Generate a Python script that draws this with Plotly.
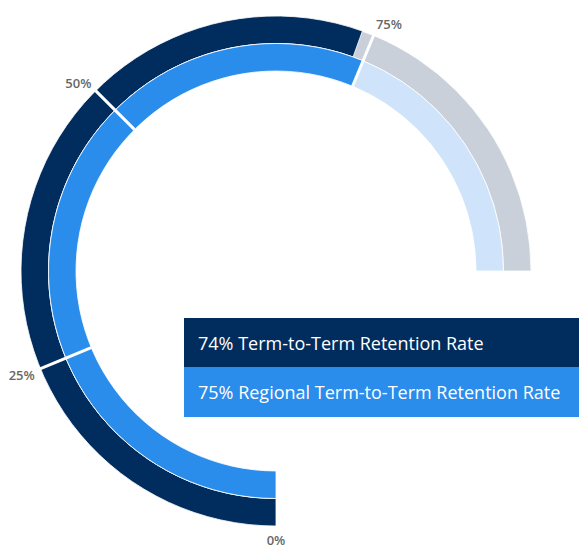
import plotly.graph_objects as go

# ---- data ----
categories = ["Term-to-Term Retention Rate", "Regional Term-to-Term Retention Rate"]
values = [74, 75]
scale_max = 100
tick_values = [0, 25, 50, 75]
tick_labels = ["0%", "25%", "50%", "75%"]

# ---- styling ----
SWEEP = 270.0  # degrees covered by 0..100 %
bar_colors = ["#012D5E", "#2A8CEB"]
track_colors = ["#C9D0D9", "#CFE4FA"]
ring_base = [227.5, 200.0]
ring_thick = [27.5, 27.5]
R_PX = 256.0
CX, CY = 276, 271
W, H = 579, 550


def deg(p):
    return p * SWEEP / scale_max


fig = go.Figure()

for i in range(len(values)):
    fig.add_trace(go.Barpolar(
        r=[ring_thick[i]], base=[ring_base[i]],
        theta=[deg(scale_max) / 2], width=[deg(scale_max)],
        marker=dict(color=track_colors[i], line=dict(color="rgba(255,255,255,0.8)", width=1)),
        hoverinfo="skip", showlegend=False,
    ))
    fig.add_trace(go.Barpolar(
        r=[ring_thick[i]], base=[ring_base[i]],
        theta=[deg(values[i]) / 2], width=[deg(values[i])],
        marker=dict(color=bar_colors[i], line=dict(color="rgba(255,255,255,0.8)", width=1)),
        name=categories[i], showlegend=False,
    ))

sep_r, sep_t = [], []
for tv in tick_values[1:]:
    sep_r += [ring_base[1], ring_base[0] + ring_thick[0] + 0.5, None]
    sep_t += [deg(tv), deg(tv), None]
fig.add_trace(go.Scatterpolar(
    r=sep_r, theta=sep_t, mode="lines",
    line=dict(color="white", width=3),
    hoverinfo="skip", showlegend=False, cliponaxis=False,
))

fig.update_layout(
    width=W, height=H,
    margin=dict(l=0, r=0, t=0, b=0),
    paper_bgcolor="white",
    showlegend=False,
    polar=dict(
        domain=dict(x=[(CX - R_PX) / W, (CX + R_PX) / W],
                    y=[(H - CY - R_PX) / H, (H - CY + R_PX) / H]),
        bgcolor="rgba(0,0,0,0)",
        hole=0,
        radialaxis=dict(range=[0, R_PX], visible=False),
        angularaxis=dict(
            rotation=-90, direction="clockwise", thetaunit="degrees",
            showgrid=False, showline=False,
            tickmode="array", tickvals=[deg(t) for t in tick_values], ticktext=tick_labels,
            ticks="outside", ticklen=2, tickcolor="rgba(0,0,0,0)",
            tickfont=dict(family="Open Sans", size=13, color="#666666", weight=600),
        ),
    ),
)

box_x0 = 184 / W
row_tops = [318, 367]
row_h = 50
for i in range(len(values)):
    y1 = (H - row_tops[i]) / H
    y0 = (H - row_tops[i] - row_h) / H
    fig.add_shape(type="rect", xref="paper", yref="paper",
                  x0=box_x0, x1=1.0, y0=y0, y1=y1,
                  fillcolor=bar_colors[i], line=dict(width=0), layer="above")
    fig.add_annotation(xref="paper", yref="paper", x=196 / W, y=(y0 + y1) / 2,
                       xanchor="left", yanchor="middle", showarrow=False,
                       text=f"{values[i]}% {categories[i]}",
                       font=dict(family="Open Sans", size=18, color="white"))

fig.write_html("out.html", config={"displayModeBar": False},
               post_script="document.body.style.margin='0px';document.body.style.overflow='hidden';")
